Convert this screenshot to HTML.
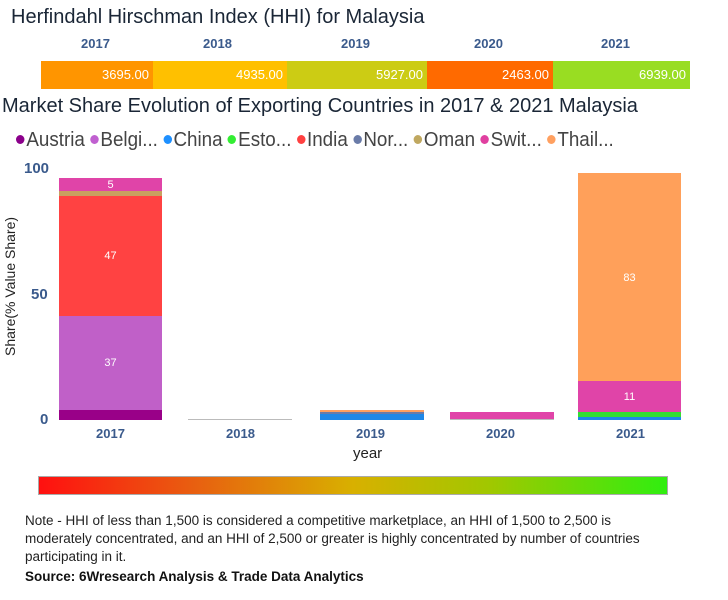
<!DOCTYPE html>
<html><head><meta charset="utf-8"><style>
*{margin:0;padding:0;box-sizing:border-box}
body{width:728px;height:600px;background:#fff;position:relative;overflow:hidden;font-family:"Liberation Sans","DejaVu Sans",sans-serif}
.a{position:absolute;white-space:nowrap}
.yr{color:#3a5a8c;font-weight:bold;font-size:13px}
.seg{position:absolute;top:61px;height:28px;color:#fff;font-size:13px;text-align:right;padding-right:4px;line-height:28px}
.bar{position:absolute}
.lbl{position:absolute;color:#fff;font-size:11px;text-align:center}
.dot{display:inline-block;width:9px;height:9px;border-radius:50%;margin-right:2px;vertical-align:2px}
.note{font-size:13.5px;color:#222}
</style></head><body>
<div class="a" style="left:11px;top:6px;font-size:20px;color:#1a2636">Herfindahl Hirschman Index (HHI) for Malaysia</div>
<div class="a yr" style="left:81px;top:36px">2017</div>
<div class="a yr" style="left:203px;top:36px">2018</div>
<div class="a yr" style="left:341px;top:36px">2019</div>
<div class="a yr" style="left:474px;top:36px">2020</div>
<div class="a yr" style="left:601px;top:36px">2021</div>
<div class="seg" style="left:41px;width:112px;background:#ff9500">3695.00</div>
<div class="seg" style="left:153px;width:134px;background:#ffc000">4935.00</div>
<div class="seg" style="left:287px;width:140px;background:#cccc14">5927.00</div>
<div class="seg" style="left:427px;width:126px;background:#ff6a00">2463.00</div>
<div class="seg" style="left:553px;width:137px;background:#99dd22">6939.00</div>
<div class="a" style="left:2px;top:95px;font-size:20px;color:#1a2636">Market Share Evolution of Exporting Countries in 2017 &amp; 2021 Malaysia</div>
<div class="a" style="left:16px;top:129px;font-size:20px;color:#444;transform:scaleX(0.94);transform-origin:left top">
<span class="dot" style="background:#8b008b"></span>Austria <span class="dot" style="background:#c060d0"></span>Belgi... <span class="dot" style="background:#1e90ff"></span>China <span class="dot" style="background:#33ee33"></span>Esto... <span class="dot" style="background:#ff4040"></span>India <span class="dot" style="background:#6a7ba8"></span>Nor... <span class="dot" style="background:#c0a860"></span>Oman <span class="dot" style="background:#e040a0"></span>Swit... <span class="dot" style="background:#ffa060"></span>Thail...</div>
<div class="a yr" style="left:24px;top:160px;font-size:15px">100</div>
<div class="a yr" style="left:31px;top:286px;font-size:15px">50</div>
<div class="a yr" style="left:40px;top:411px;font-size:15px">0</div>
<div class="a" style="left:-50px;top:288px;font-size:14px;color:#222;transform:rotate(-90deg);width:120px;text-align:center">Share(% Value Share)</div>
<div class="bar" style="left:59px;width:103px;top:410px;height:10px;background:#990088"></div>
<div class="bar" style="left:59px;width:103px;top:316px;height:94px;background:#c060c8"></div>
<div class="bar" style="left:59px;width:103px;top:196px;height:120px;background:#ff4242"></div>
<div class="bar" style="left:59px;width:103px;top:191px;height:5px;background:#c8a060"></div>
<div class="bar" style="left:59px;width:103px;top:178px;height:13px;background:#e044a8"></div>
<div class="lbl" style="left:59px;width:103px;top:179px">5</div>
<div class="lbl" style="left:59px;width:103px;top:250px">47</div>
<div class="lbl" style="left:59px;width:103px;top:357px">37</div>
<div class="bar" style="left:188px;width:104px;top:419px;height:1px;background:#bbb"></div>
<div class="bar" style="left:320px;width:104px;top:414px;height:6px;background:#1e88e8"></div>
<div class="bar" style="left:320px;width:104px;top:412px;height:2px;background:#6a7ba8"></div>
<div class="bar" style="left:320px;width:104px;top:410px;height:2px;background:#ffa060"></div>
<div class="bar" style="left:450px;width:104px;top:412px;height:7px;background:#e044a8"></div>
<div class="bar" style="left:450px;width:104px;top:419px;height:1px;background:#bbb"></div>
<div class="bar" style="left:578px;width:103px;top:417px;height:3px;background:#1e88e8"></div>
<div class="bar" style="left:578px;width:103px;top:412px;height:5px;background:#33dd33"></div>
<div class="bar" style="left:578px;width:103px;top:381px;height:31px;background:#e044a8"></div>
<div class="bar" style="left:578px;width:103px;top:173px;height:208px;background:#ffa05a"></div>
<div class="lbl" style="left:578px;width:103px;top:272px">83</div>
<div class="lbl" style="left:578px;width:103px;top:391px">11</div>
<div class="a yr" style="left:96px;top:426px">2017</div>
<div class="a yr" style="left:226px;top:426px">2018</div>
<div class="a yr" style="left:356px;top:426px">2019</div>
<div class="a yr" style="left:486px;top:426px">2020</div>
<div class="a yr" style="left:616px;top:426px">2021</div>
<div class="a" style="left:353px;top:445px;font-size:15px;color:#222">year</div>
<div class="bar" style="left:38px;top:476px;width:630px;height:19px;background:linear-gradient(to right,#ff1010,#e86010 25%,#d8b000 50%,#a0c800 72%,#30ee10);border:1px solid #aaa"></div>
<div class="a note" style="left:25px;top:513px">Note - HHI of less than 1,500 is considered a competitive marketplace, an HHI of 1,500 to 2,500 is</div>
<div class="a note" style="left:25px;top:531px">moderately concentrated, and an HHI of 2,500 or greater is highly concentrated by number of countries</div>
<div class="a note" style="left:25px;top:549px">participating in it.</div>
<div class="a note" style="left:25px;top:569px;font-weight:bold;color:#111">Source: 6Wresearch Analysis &amp; Trade Data Analytics</div>
</body></html>
